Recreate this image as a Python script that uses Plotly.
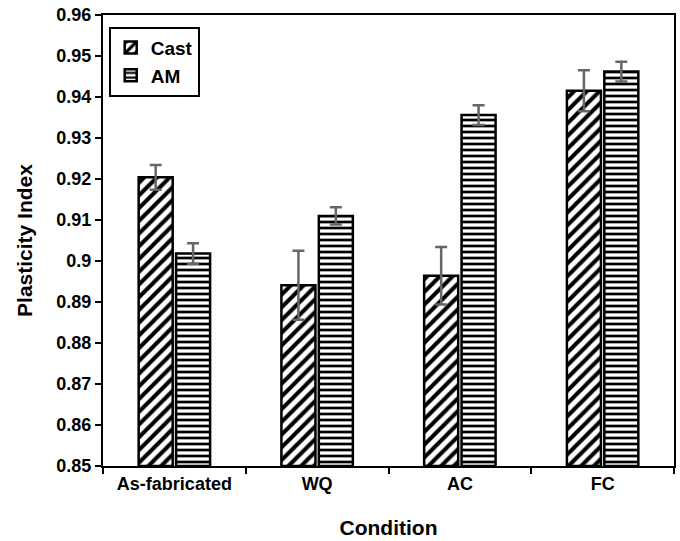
import plotly.graph_objects as go

categories = ["As-fabricated", "WQ", "AC", "FC"]
cast_values = [0.9204, 0.8941, 0.8964, 0.9415]
cast_errors = [0.0030, 0.0084, 0.0070, 0.0050]
am_values = [0.9018, 0.9110, 0.9356, 0.9462]
am_errors = [0.0025, 0.0021, 0.0024, 0.0024]
y_ticks = [0.85, 0.86, 0.87, 0.88, 0.89, 0.90, 0.91, 0.92, 0.93, 0.94, 0.95, 0.96]
y_tick_labels = ["0.85", "0.86", "0.87", "0.88", "0.89", "0.9", "0.91", "0.92", "0.93", "0.94", "0.95", "0.96"]

FONT = "Liberation Sans, Arial, sans-serif"

def series(name, vals, errs, shape, size):
    return go.Bar(
        name=name, x=categories, y=[v - 0.85 for v in vals], base=0.85,
        marker=dict(color="white", line=dict(color="black", width=2.5),
                    pattern=dict(shape=shape, fgcolor="black", bgcolor="white", fgopacity=1,
                                 size=size, solidity=0.45, fillmode="overlay")),
        error_y=dict(type="data", array=errs, color="#666666", thickness=2.5, width=6),
    )

fig = go.Figure([
    series("Cast", cast_values, cast_errors, "/", 9),
    series("AM", am_values, am_errors, "-", 6),
])

fig.update_layout(
    width=680, height=541,
    margin=dict(l=103, r=4, t=15, b=75),
    paper_bgcolor="white", plot_bgcolor="white",
    barmode="group", bargap=0.476, bargroupgap=0.09,
    font=dict(family=FONT, color="black", size=18),
    showlegend=True,
    legend=dict(x=0.01, y=0.974, xanchor="left", yanchor="top",
                bordercolor="black", borderwidth=2, bgcolor="white",
                font=dict(size=19, family=FONT, weight="bold"),
                itemwidth=30, tracegroupgap=0),
)
fig.update_xaxes(
    type="category", showline=True, linecolor="black", linewidth=2, mirror=True,
    ticks="outside", tickson="boundaries", ticklen=6, tickwidth=2, tickcolor="black",
    tickfont=dict(size=18, family=FONT, weight="bold"),
    title=dict(text="Condition", font=dict(size=21, family=FONT, weight="bold"), standoff=28),
)
fig.update_yaxes(
    range=[0.85, 0.96], tickvals=y_ticks, ticktext=y_tick_labels,
    showline=True, linecolor="black", linewidth=2, mirror=True,
    ticks="outside", ticklen=6, tickwidth=2, tickcolor="black", showgrid=False, zeroline=False,
    tickfont=dict(size=18, family=FONT, weight="bold"),
    title=dict(text="Plasticity Index", font=dict(size=21, family=FONT, weight="bold"), standoff=18),
)

# remove the browser's default 8px body margin so the figure fills the window exactly
fig.write_html("out.html", config={"displayModeBar": False},
               post_script="document.body.style.margin='0';")
